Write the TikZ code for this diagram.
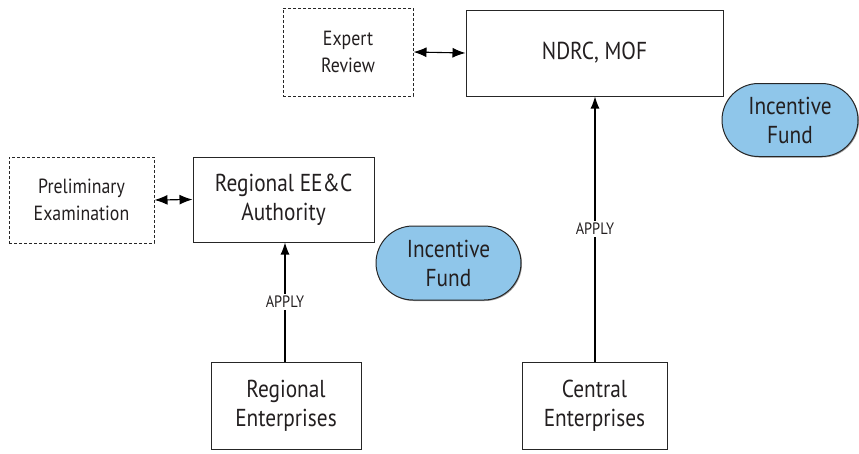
\documentclass[tikz,border=0pt]{standalone}
\usepackage{fontspec}
\setmainfont{PT Sans}[FakeStretch=0.87]
\usetikzlibrary{arrows.meta,shapes.misc,shadows}
\definecolor{fundblue}{HTML}{8FC6EA}
\definecolor{txt}{HTML}{231F20}
\tikzset{
  box/.style={draw=black!85, line width=1pt, fill=white, text=txt, align=center, inner sep=0pt},
  dbox/.style={box, dashed, dash pattern=on 3pt off 2pt},
  big/.style={font=\fontsize{24.5}{29}\selectfont},
  small/.style={font=\fontsize{20.5}{27}\selectfont},
  fund/.style={draw=black!85, line width=1pt, fill=fundblue, rounded rectangle, text=txt, align=center, inner sep=0pt,
    drop shadow={shadow xshift=1pt, shadow yshift=-1pt, fill=black!55, opacity=0.7}},
  arr/.style={line width=1.1pt, arrows={-Latex[length=12pt,width=9pt]}},
  darr/.style={line width=1.1pt, arrows={Latex[length=13pt,width=10pt]-Latex[length=13pt,width=10pt]}},
  lbl/.style={fill=white, text=txt, font=\fontsize{16.5}{18}\selectfont, inner sep=2pt}
}
\begin{document}
\begin{tikzpicture}[x=1pt,y=-1pt]
\useasboundingbox (0,0) rectangle (859,453);
\node[dbox, small, minimum width=130pt, minimum height=88pt] (exp) at (348,52) {Expert\\Review};
\node[box, big, minimum width=257pt, minimum height=86pt] (ndrc) at (594.5,53) {NDRC, MOF};
\node[fund, big, minimum width=136pt, minimum height=73pt] (f1) at (790,120) {Incentive\\Fund};
\node[dbox, small, minimum width=145pt, minimum height=86pt] (pre) at (81.5,200) {Preliminary\\Examination};
\node[box, big, minimum width=181pt, minimum height=85pt] (reg) at (283.5,199.5) {Regional EE\&C\\Authority};
\node[fund, big, minimum width=145pt, minimum height=74pt] (f2) at (448.5,263) {Incentive\\Fund};
\node[box, big, minimum width=150pt, minimum height=87pt] (re) at (286,405.5) {Regional\\Enterprises};
\node[box, big, minimum width=145pt, minimum height=87pt] (ce) at (594.5,405.5) {Central\\Enterprises};
\coordinate (a1) at (285,0);
\coordinate (a2) at (595,0);
\draw[arr] (re.north -| a1) -- node[lbl, pos=0.5] {APPLY} (reg.south -| a1);
\draw[arr] (ce.north -| a2) -- node[lbl, pos=0.5] {APPLY} (ndrc.south -| a2);
\draw[darr] (exp.east) -- (ndrc.west);
\draw[darr] (pre.east) -- (reg.west);
\end{tikzpicture}
\end{document}
